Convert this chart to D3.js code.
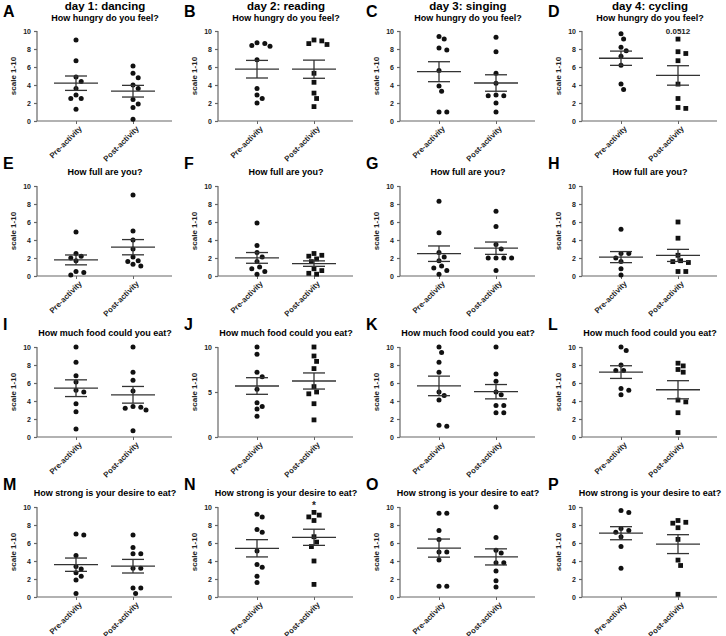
<!DOCTYPE html>
<html><head><meta charset="utf-8">
<script src="https://cdn.jsdelivr.net/npm/d3@7"></script>
<style>body{margin:0;background:#fff}text{font-family:"Liberation Sans",Arial,sans-serif}</style>
</head><body><svg id="c" width="726" height="636"></svg>
<script>
const letters = ["A","B","C","D","E","F","G","H","I","J","K","L","M","N","O","P"];
const dayTitles = ["day 1: dancing","day 2: reading","day 3: singing","day 4: cycling"];
const questions = ["How hungry do you feel?","How full are you?","How much food could you eat?","How strong is your desire to eat?"];
const categories = ["Pre-activity","Post-activity"];
const yTicks = [0,2,4,6,8,10];
const yTicksJ = [0,5,10];
const preValues = [
 [9,6.7,4.9,4.4,3.6,2.9,2.5,2.5,1.3],
 [8.6,8.3,8.4,8.7,6.8,3.6,2.9,2.5,2.0],
 [9.1,9.4,8.1,7.9,5.6,3.9,3.3,1.0,1.0],
 [9.7,9.1,8.2,7.8,7.2,6.2,4.1,3.5],
 [4.9,2.5,2.2,2.0,1.7,0.5,0.4,0.1],
 [5.9,3.4,2.6,2.1,1.6,1.0,0.8,0.5,0.2],
 [8.3,4.8,2.6,2.1,1.7,1.1,0.9,0.6,0.2],
 [5.2,2.5,2.5,2.0,1.6,0.8,0.1],
 [10,8.3,6.8,6.1,5.2,5.0,3.7,2.8,0.9],
 [10,9.2,7.2,6.7,5.3,3.8,3.4,3.1,2.3],
 [10,9.4,8.3,7.2,5.0,4.6,4.1,1.3,1.2],
 [10,9.6,8.0,7.4,7.4,5.4,5.2,4.7],
 [7.0,6.9,4.6,3.4,3.1,2.7,2.3,1.9,0.4],
 [9.2,8.9,7.5,7.2,5.1,3.6,3.3,2.3,1.6],
 [9.3,9.3,7.4,6.4,5.0,5.0,4.1,1.2,1.2],
 [9.6,9.4,7.6,7.4,7.2,6.7,5.6,3.2]
];
const postValues = [
 [6.1,5.3,4.8,4.0,3.6,2.4,1.9,1.5,0.2],
 [8.9,8.5,8.6,9.0,5.3,4.3,3.1,2.5,1.6],
 [9.3,7.7,5.3,4.2,2.9,2.8,2.8,2.0,1.0],
 [9.1,7.7,7.5,6.7,4.1,2.5,1.4,1.5],
 [9.0,5.0,4.0,3.0,2.1,1.7,1.6,1.3,1.1],
 [2.5,2.3,2.2,1.9,1.6,0.8,0.6,0.3,0.2],
 [7.2,5.5,3.5,3.0,2.0,2.0,2.0,2.0,0.6],
 [6.0,4.2,2.3,1.7,1.6,1.5,0.5,0.5],
 [10,7.2,6.3,5.1,3.4,3.3,3.0,3.2,0.7],
 [10,9,8.4,7.6,5.6,5.0,4.8,3.7,1.9],
 [10,7.0,6.2,5.0,4.7,3.5,3.5,2.7,2.7],
 [8.2,7.9,7.5,7.2,4.1,3.9,2.7,0.5],
 [6.9,5.5,4.8,4.8,3.2,3.2,1.0,1.0,0.4],
 [9.4,9.1,8.9,8.5,6.7,6.1,5.6,4.0,1.4],
 [10,6.6,5.2,4.9,3.8,3.8,2.9,1.8,1.1],
 [8.5,8.3,8.2,7.7,6.4,4.1,3.5,0.3]
];
const annotations = {3:"0.0512", 13:"*"};

const svg = d3.select("#c");
const rowTop = [31,186,347,507];
const colLeft = [0,181,363,545];
const plotH = 90, col = "#111", axisCol = "#666";

function swarm(vals, y, cx, r){
  const idx = vals.map((v,i)=>i).sort((a,b)=>vals[b]-vals[a]);
  const placed = []; const out = new Array(vals.length);
  idx.forEach(i=>{
    const py = y(vals[i]);
    for(let k=0;k<20;k++){
      const off = (k===0?0:(k%2?1:-1)*Math.ceil(k/2))*r;
      const px = cx+off;
      if(placed.every(p=>Math.hypot(p[0]-px,p[1]-py)>=2*r+0.5)){placed.push([px,py]);out[i]=[px,py];break;}
    }
  });
  return out;
}

for(let p=0;p<16;p++){
  const row = Math.floor(p/4), c = p%4;
  const ox = colLeft[c], top = rowTop[row];
  const g = svg.append("g");
  const x0 = ox+37, x1 = ox+172;
  const y = d3.scaleLinear().domain([0,10]).range([top+plotH, top]);
  const x = d3.scalePoint().domain(categories).range([ox+76, ox+133]);
  g.append("text").attr("x",ox+3).attr("y",row===0?17:top-17).text(letters[p])
    .attr("font-size",16).attr("font-weight","bold");
  if(row===0){
    g.append("text").attr("x",ox+105).attr("y",10).attr("text-anchor","middle").attr("font-size",11.5).attr("font-weight","bold").text(dayTitles[c]);
    g.append("text").attr("x",ox+105).attr("y",21).attr("text-anchor","middle").attr("font-size",9).attr("font-weight","bold").text(questions[0]);
  } else {
    g.append("text").attr("x",ox+105).attr("y",top-11).attr("text-anchor","middle").attr("font-size",9).attr("font-weight","bold").text(questions[row]);
  }
  const ya = d3.axisLeft(y).tickValues(p===9?yTicksJ:yTicks).tickSize(3).tickFormat(d3.format("d"));
  const ag = g.append("g").attr("transform",`translate(${x0},0)`).call(ya);
  ag.selectAll("path,line").attr("stroke",axisCol).attr("stroke-width",1.2);
  ag.select(".domain").attr("d",`M0,${top}V${top+plotH}`);
  ag.selectAll("text").attr("font-size",7).attr("font-weight","bold").attr("fill","#222").attr("font-family","Liberation Sans");
  const xa = d3.axisBottom(x).tickSize(3);
  const xg = g.append("g").attr("transform",`translate(0,${top+plotH})`).call(xa);
  xg.select(".domain").attr("d",`M${x0},0H${x1}`).attr("stroke",axisCol).attr("stroke-width",1.2);
  xg.selectAll("line").attr("stroke",axisCol);
  xg.selectAll("text").attr("font-size",7.8).attr("font-weight","bold").attr("fill","#222").attr("font-family","Liberation Sans")
    .attr("text-anchor","end").attr("transform","rotate(-45)").attr("dx","-0.2em").attr("dy","0.5em");
  g.append("text").attr("transform",`translate(${ox+16},${top+plotH/2}) rotate(-90)`).attr("text-anchor","middle")
    .attr("font-size",8).attr("font-weight","bold").attr("fill","#222").text("scale 1-10");
  [preValues[p], postValues[p]].forEach((vals,k)=>{
    const cx = x(categories[k]);
    const square = (k===1 && c%2===1);
    const pts = swarm(vals,y,cx,2.6);
    pts.forEach(pt=>{
      if(square) g.append("rect").attr("x",pt[0]-2.4).attr("y",pt[1]-2.4).attr("width",4.8).attr("height",4.8).attr("fill",col);
      else g.append("circle").attr("cx",pt[0]).attr("cy",pt[1]).attr("r",2.5).attr("fill",col);
    });
    const m = d3.mean(vals), sem = d3.deviation(vals)/Math.sqrt(vals.length);
    const ls = {stroke:"#333","stroke-width":1.3};
    const ln=(a,b,cc,d)=>{const l=g.append("line").attr("x1",a).attr("y1",b).attr("x2",cc).attr("y2",d);Object.entries(ls).forEach(([kk,vv])=>l.attr(kk,vv));};
    ln(cx-22,y(m),cx+22,y(m));
    ln(cx,y(m-sem),cx,y(m+sem));
    ln(cx-11,y(m+sem),cx+11,y(m+sem));
    ln(cx-11,y(m-sem),cx+11,y(m-sem));
    if(k===1 && annotations[p]){
      g.append("text").attr("x",cx).attr("y",annotations[p]==="*"?top+2:top+3).attr("text-anchor","middle")
        .attr("font-size",annotations[p]==="*"?10:8).attr("font-weight","bold").attr("fill","#222").text(annotations[p]);
    }
  });
}
</script></body></html>
